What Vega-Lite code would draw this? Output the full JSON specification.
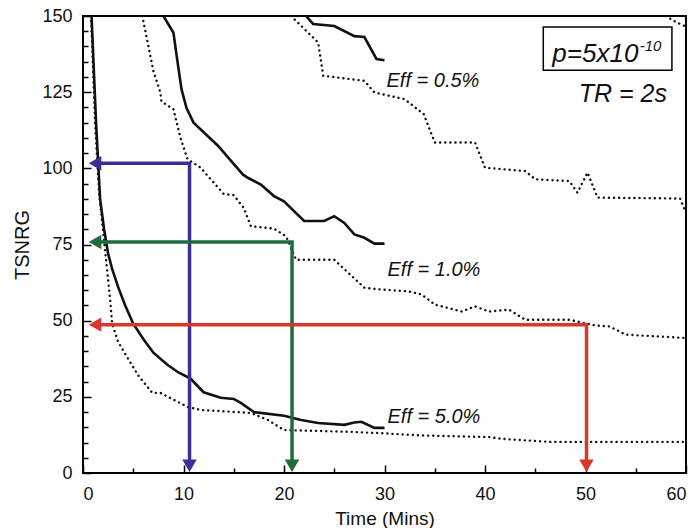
{
  "$schema": "https://vega.github.io/schema/vega-lite/v6.json",
  "width": 603,
  "height": 457,
  "autosize": {"type": "none"},
  "padding": {"left": 83, "top": 16, "right": 13, "bottom": 55},
  "background": "white",
  "config": {
    "view": {"stroke": "black", "strokeWidth": 2},
    "axis": {
      "domain": false, "grid": false,
      "labelFont": "Liberation Sans", "labelFontSize": 18, "labelColor": "#111",
      "tickColor": "black", "tickWidth": 1.5,
      "titleFont": "Liberation Sans", "titleFontSize": 19, "titleFontWeight": "normal", "titleColor": "#111"
    }
  },
  "datasets": {
    "curves": [
      {"s":"e5s","t":"solid","x":0.85,"y":150},{"s":"e5s","t":"solid","x":1.3,"y":115},{"s":"e5s","t":"solid","x":1.7,"y":90},{"s":"e5s","t":"solid","x":2.1,"y":80},{"s":"e5s","t":"solid","x":2.5,"y":72},{"s":"e5s","t":"solid","x":2.9,"y":67},{"s":"e5s","t":"solid","x":3.5,"y":61},{"s":"e5s","t":"solid","x":4.2,"y":55},{"s":"e5s","t":"solid","x":5.0,"y":49},{"s":"e5s","t":"solid","x":6.0,"y":44},{"s":"e5s","t":"solid","x":7.0,"y":39.5},{"s":"e5s","t":"solid","x":8.4,"y":35.5},{"s":"e5s","t":"solid","x":9.5,"y":33},{"s":"e5s","t":"solid","x":10.7,"y":31},{"s":"e5s","t":"solid","x":12,"y":26.5},{"s":"e5s","t":"solid","x":13.7,"y":24.7},{"s":"e5s","t":"solid","x":15,"y":24.3},{"s":"e5s","t":"solid","x":15.7,"y":23},{"s":"e5s","t":"solid","x":17,"y":20},{"s":"e5s","t":"solid","x":20,"y":18.8},{"s":"e5s","t":"solid","x":21.7,"y":17.4},{"s":"e5s","t":"solid","x":23.4,"y":16.4},{"s":"e5s","t":"solid","x":26,"y":15.8},{"s":"e5s","t":"solid","x":27,"y":16.6},{"s":"e5s","t":"solid","x":27.7,"y":16.8},{"s":"e5s","t":"solid","x":29,"y":14.8},{"s":"e5s","t":"solid","x":30,"y":14.8},
      {"s":"e5d","t":"dotted","x":0.8,"y":150},{"s":"e5d","t":"dotted","x":1.2,"y":115},{"s":"e5d","t":"dotted","x":1.6,"y":92},{"s":"e5d","t":"dotted","x":2.2,"y":73},{"s":"e5d","t":"dotted","x":2.7,"y":57},{"s":"e5d","t":"dotted","x":2.9,"y":49},{"s":"e5d","t":"dotted","x":3.5,"y":43},{"s":"e5d","t":"dotted","x":4.4,"y":38},{"s":"e5d","t":"dotted","x":5.5,"y":32},{"s":"e5d","t":"dotted","x":6.9,"y":26.3},{"s":"e5d","t":"dotted","x":7.7,"y":26.3},{"s":"e5d","t":"dotted","x":10.4,"y":21.7},{"s":"e5d","t":"dotted","x":11.7,"y":20.7},{"s":"e5d","t":"dotted","x":16.7,"y":19.7},{"s":"e5d","t":"dotted","x":18.4,"y":17.4},{"s":"e5d","t":"dotted","x":20,"y":14.1},{"s":"e5d","t":"dotted","x":26.7,"y":13.5},{"s":"e5d","t":"dotted","x":30,"y":13},{"s":"e5d","t":"dotted","x":33.7,"y":12.3},{"s":"e5d","t":"dotted","x":40.4,"y":11.8},{"s":"e5d","t":"dotted","x":41.7,"y":11.2},{"s":"e5d","t":"dotted","x":45,"y":10.5},{"s":"e5d","t":"dotted","x":46.4,"y":10.2},{"s":"e5d","t":"dotted","x":60,"y":10.2},
      {"s":"e1s","t":"solid","x":8,"y":150},{"s":"e1s","t":"solid","x":9,"y":144.5},{"s":"e1s","t":"solid","x":9.3,"y":137.4},{"s":"e1s","t":"solid","x":9.8,"y":126},{"s":"e1s","t":"solid","x":10.3,"y":119.8},{"s":"e1s","t":"solid","x":11,"y":115},{"s":"e1s","t":"solid","x":13.4,"y":107.5},{"s":"e1s","t":"solid","x":15.9,"y":98},{"s":"e1s","t":"solid","x":16.4,"y":96.9},{"s":"e1s","t":"solid","x":17.7,"y":94.7},{"s":"e1s","t":"solid","x":19,"y":90.9},{"s":"e1s","t":"solid","x":20,"y":89.2},{"s":"e1s","t":"solid","x":22,"y":82.7},{"s":"e1s","t":"solid","x":24,"y":82.7},{"s":"e1s","t":"solid","x":25,"y":84.3},{"s":"e1s","t":"solid","x":26,"y":82.1},{"s":"e1s","t":"solid","x":27,"y":78.3},{"s":"e1s","t":"solid","x":28,"y":77.2},{"s":"e1s","t":"solid","x":29,"y":75.3},{"s":"e1s","t":"solid","x":30,"y":75.3},
      {"s":"e1d","t":"dotted","x":5.9,"y":150},{"s":"e1d","t":"dotted","x":7,"y":132},{"s":"e1d","t":"dotted","x":7.7,"y":124.9},{"s":"e1d","t":"dotted","x":7.8,"y":122},{"s":"e1d","t":"dotted","x":8.8,"y":119.8},{"s":"e1d","t":"dotted","x":9,"y":119.4},{"s":"e1d","t":"dotted","x":9.7,"y":110},{"s":"e1d","t":"dotted","x":10.4,"y":103},{"s":"e1d","t":"dotted","x":11.5,"y":100.7},{"s":"e1d","t":"dotted","x":11.7,"y":100.2},{"s":"e1d","t":"dotted","x":14,"y":91.6},{"s":"e1d","t":"dotted","x":15,"y":91.2},{"s":"e1d","t":"dotted","x":16,"y":87},{"s":"e1d","t":"dotted","x":16.7,"y":81},{"s":"e1d","t":"dotted","x":19,"y":80.2},{"s":"e1d","t":"dotted","x":20.2,"y":77.7},{"s":"e1d","t":"dotted","x":21.2,"y":70},{"s":"e1d","t":"dotted","x":25,"y":70},{"s":"e1d","t":"dotted","x":28,"y":60.8},{"s":"e1d","t":"dotted","x":29.7,"y":60.2},{"s":"e1d","t":"dotted","x":32.4,"y":59.6},{"s":"e1d","t":"dotted","x":33.7,"y":58.6},{"s":"e1d","t":"dotted","x":35,"y":55.3},{"s":"e1d","t":"dotted","x":37.7,"y":53},{"s":"e1d","t":"dotted","x":39,"y":54.7},{"s":"e1d","t":"dotted","x":40.4,"y":53},{"s":"e1d","t":"dotted","x":42.4,"y":53.6},{"s":"e1d","t":"dotted","x":44,"y":50.3},{"s":"e1d","t":"dotted","x":48.4,"y":50.3},{"s":"e1d","t":"dotted","x":51,"y":48.4},{"s":"e1d","t":"dotted","x":52.4,"y":48.1},{"s":"e1d","t":"dotted","x":54,"y":45.4},{"s":"e1d","t":"dotted","x":60,"y":44.3},
      {"s":"e05s","t":"solid","x":22.2,"y":150},{"s":"e05s","t":"solid","x":22.9,"y":147.4},{"s":"e05s","t":"solid","x":25,"y":146.7},{"s":"e05s","t":"solid","x":27,"y":143.4},{"s":"e05s","t":"solid","x":28,"y":143.1},{"s":"e05s","t":"solid","x":29.2,"y":135.9},{"s":"e05s","t":"solid","x":30,"y":135.5},
      {"s":"e05d","t":"dotted","x":20.7,"y":150},{"s":"e05d","t":"dotted","x":23.4,"y":141.3},{"s":"e05d","t":"dotted","x":23.9,"y":130.4},{"s":"e05d","t":"dotted","x":28,"y":128.7},{"s":"e05d","t":"dotted","x":29,"y":124.9},{"s":"e05d","t":"dotted","x":32,"y":122.7},{"s":"e05d","t":"dotted","x":33.9,"y":117.8},{"s":"e05d","t":"dotted","x":35,"y":108.5},{"s":"e05d","t":"dotted","x":39,"y":108.5},{"s":"e05d","t":"dotted","x":40,"y":100.2},{"s":"e05d","t":"dotted","x":44,"y":99.1},{"s":"e05d","t":"dotted","x":45,"y":96.4},{"s":"e05d","t":"dotted","x":48.4,"y":95.8},{"s":"e05d","t":"dotted","x":49.2,"y":92},{"s":"e05d","t":"dotted","x":50.2,"y":98.6},{"s":"e05d","t":"dotted","x":51.2,"y":90.4},{"s":"e05d","t":"dotted","x":59.4,"y":90.1},{"s":"e05d","t":"dotted","x":60,"y":85.4},
      {"s":"top","t":"dotted","x":58,"y":150},{"s":"top","t":"dotted","x":59,"y":148},{"s":"top","t":"dotted","x":60,"y":146.5}
    ],
    "arrows": [
      {"c":"blue","o":1,"x":1.5,"y":101.7},{"c":"blue","o":2,"x":10.6,"y":101.7},{"c":"blue","o":3,"x":10.6,"y":2},
      {"c":"green","o":1,"x":1.5,"y":75.8},{"c":"green","o":2,"x":20.8,"y":75.8},{"c":"green","o":3,"x":20.8,"y":2},
      {"c":"red","o":1,"x":1.5,"y":48.7},{"c":"red","o":2,"x":50.1,"y":48.7},{"c":"red","o":3,"x":50.1,"y":2}
    ],
    "heads": [
      {"c":"blue","shape":"triangle-left","x":1.2,"y":101.7},{"c":"blue","shape":"triangle-down","x":10.6,"y":2.4},
      {"c":"green","shape":"triangle-left","x":1.2,"y":75.8},{"c":"green","shape":"triangle-down","x":20.8,"y":2.4},
      {"c":"red","shape":"triangle-left","x":1.2,"y":48.7},{"c":"red","shape":"triangle-down","x":50.1,"y":2.4}
    ],
    "box": [{"x":45.8,"x2":58.6,"y":146.4,"y2":132.2}],
    "labels": [
      {"x":30.2,"y":126.6,"text":"Eff = 0.5%"},
      {"x":30.3,"y":64.5,"text":"Eff = 1.0%"},
      {"x":30.3,"y":16.4,"text":"Eff = 5.0%"}
    ]
  },
  "resolve": {"axis": {"x": "independent", "y": "independent"}},
  "layer": [
    {
      "data": {"name": "box"},
      "mark": {"type": "rect", "fill": "white", "stroke": "black", "strokeWidth": 1.5},
      "encoding": {
        "x": {"field": "x", "type": "quantitative", "scale": {"domain": [0, 60], "nice": false}, "axis": null},
        "x2": {"field": "x2"},
        "y": {"field": "y", "type": "quantitative", "scale": {"domain": [0, 150], "nice": false}, "axis": null},
        "y2": {"field": "y2"}
      }
    },
    {
      "data": {"name": "curves"},
      "transform": [{"filter": "datum.t === 'dotted'"}],
      "mark": {"type": "line", "color": "#111", "strokeWidth": 2.4, "strokeDash": [0.1, 5], "strokeCap": "round", "clip": true},
      "encoding": {
        "x": {"field": "x", "type": "quantitative", "axis": {"orient": "bottom", "values": [5, 15, 25, 35, 45, 55], "labels": false, "tickSize": -5, "title": null}},
        "y": {"field": "y", "type": "quantitative", "axis": {"orient": "left", "values": [5,10,15,20,30,35,40,45,55,60,65,70,80,85,90,95,105,110,115,120,130,135,140,145], "labels": false, "tickSize": -5, "title": null}},
        "detail": {"field": "s"}
      }
    },
    {
      "data": {"name": "curves"},
      "transform": [{"filter": "datum.t === 'solid'"}],
      "mark": {"type": "line", "color": "#111", "strokeWidth": 2.6, "clip": true},
      "encoding": {
        "x": {"field": "x", "type": "quantitative", "axis": {"orient": "bottom", "values": [0, 10, 20, 30, 40, 50, 60], "tickSize": -8, "labelPadding": 20, "title": "Time (Mins)", "titlePadding": 6}},
        "y": {"field": "y", "type": "quantitative", "axis": {"orient": "left", "values": [0, 25, 50, 75, 100, 125, 150], "tickSize": -8, "labelPadding": 19, "title": "TSNRG", "titleFontSize": 20, "titlePadding": 9}},
        "detail": {"field": "s"}
      }
    },
    {
      "data": {"name": "arrows"},
      "mark": {"type": "line", "strokeWidth": 3.5, "strokeJoin": "miter"},
      "encoding": {
        "x": {"field": "x", "type": "quantitative", "axis": null},
        "y": {"field": "y", "type": "quantitative", "axis": null},
        "order": {"field": "o"},
        "color": {"field": "c", "type": "nominal", "scale": {"domain": ["blue", "green", "red"], "range": ["#3b2f96", "#1f6b3b", "#d9372b"]}, "legend": null}
      }
    },
    {
      "data": {"name": "heads"},
      "mark": {"type": "point", "filled": true, "size": 210, "opacity": 1},
      "encoding": {
        "x": {"field": "x", "type": "quantitative", "axis": null},
        "y": {"field": "y", "type": "quantitative", "axis": null},
        "shape": {"field": "shape", "type": "nominal", "scale": null},
        "color": {"field": "c", "type": "nominal", "scale": {"domain": ["blue", "green", "red"], "range": ["#3b2f96", "#1f6b3b", "#d9372b"]}, "legend": null}
      }
    },
    {
      "data": {"name": "labels"},
      "mark": {"type": "text", "align": "left", "baseline": "alphabetic", "font": "Liberation Sans", "fontStyle": "italic", "fontSize": 20, "color": "#111"},
      "encoding": {
        "x": {"field": "x", "type": "quantitative", "axis": null},
        "y": {"field": "y", "type": "quantitative", "axis": null},
        "text": {"field": "text"}
      }
    },
    {
      "data": {"values": [{"x": 58.1, "y": 121.7, "text": "TR = 2s"}]},
      "mark": {"type": "text", "align": "right", "baseline": "alphabetic", "font": "Liberation Sans", "fontStyle": "italic", "fontSize": 25, "color": "#111"},
      "encoding": {
        "x": {"field": "x", "type": "quantitative", "axis": null},
        "y": {"field": "y", "type": "quantitative", "axis": null},
        "text": {"field": "text"}
      }
    },
    {
      "data": {"values": [{"x": 46.7, "y": 134.9, "text": "p=5x10"}]},
      "mark": {"type": "text", "align": "left", "baseline": "alphabetic", "font": "Liberation Sans", "fontStyle": "italic", "fontSize": 26, "color": "#111"},
      "encoding": {
        "x": {"field": "x", "type": "quantitative", "axis": null},
        "y": {"field": "y", "type": "quantitative", "axis": null},
        "text": {"field": "text"}
      }
    },
    {
      "data": {"values": [{"x": 55.4, "y": 138.6, "text": "-10"}]},
      "mark": {"type": "text", "align": "left", "baseline": "alphabetic", "font": "Liberation Sans", "fontStyle": "italic", "fontSize": 15, "color": "#111"},
      "encoding": {
        "x": {"field": "x", "type": "quantitative", "axis": null},
        "y": {"field": "y", "type": "quantitative", "axis": null},
        "text": {"field": "text"}
      }
    }
  ]
}
